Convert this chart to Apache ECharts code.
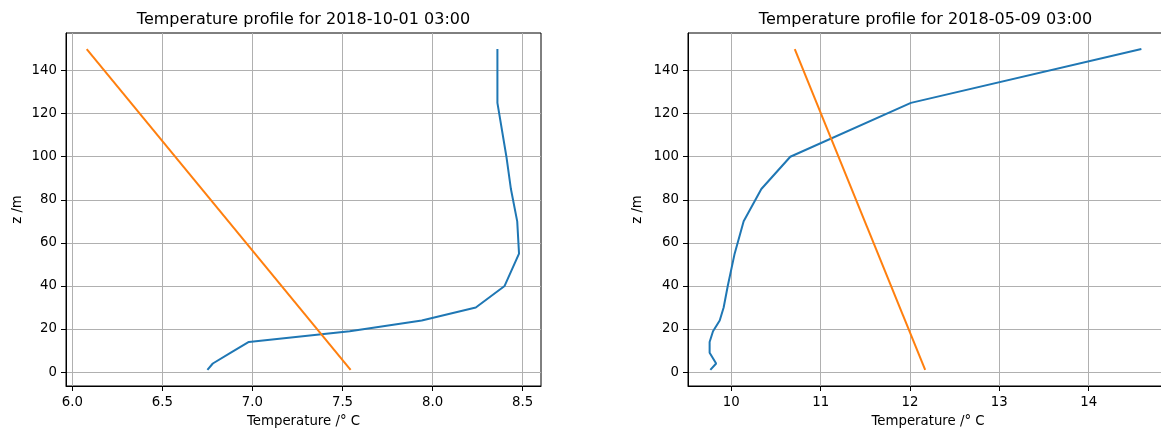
<!DOCTYPE html>
<html><head><meta charset="utf-8">
<script src="https://cdn.jsdelivr.net/npm/echarts@6/dist/echarts.min.js"></script>
<style>html,body{margin:0;padding:0;background:#fff}#c{width:1161px;height:429px}</style>
</head><body><div id="c"></div>
<script>
// ---- data ----
const titles = ['Temperature profile for 2018-10-01 03:00', 'Temperature profile for 2018-05-09 03:00'];
const zLevels = [1, 4, 9, 14, 19, 24, 30, 40, 55, 70, 85, 100, 125, 150];
const leftObs = [6.75, 6.78, 6.88, 6.98, 7.54, 7.94, 8.24, 8.40, 8.48, 8.47, 8.435, 8.41, 8.36, 8.36];
const rightObs = [9.765, 9.83, 9.757, 9.757, 9.795, 9.87, 9.914, 9.96, 10.037, 10.138, 10.336, 10.66, 12.01, 14.59];
const zModel = [1, 150];
const leftModel = [7.545, 6.08];
const rightModel = [12.17, 10.71];
const yTicks = [0, 20, 40, 60, 80, 100, 120, 140];
const leftXTicks = [6.0, 6.5, 7.0, 7.5, 8.0, 8.5];
const rightXTicks = [10, 11, 12, 13, 14];
const xName = 'Temperature /° C';
const yName = 'z /m';

// ---- chart ----
const FONT = 'DejaVu Sans';
const pairs = (xs, zs) => xs.map((x, i) => [x, zs[i]]);

function xAxisCfg(gi, min, max, ticks, fmt) {
  return {
    type: 'value', gridIndex: gi, min: min, max: max,
    name: xName, nameLocation: 'middle', nameGap: 29,
    nameTextStyle: { color: '#000', fontSize: 13.3, fontFamily: FONT },
    axisLine: { show: true, onZero: false, lineStyle: { color: '#000', width: 1 } },
    axisTick: { show: true, inside: false, length: 5, customValues: ticks, lineStyle: { color: '#000', width: 1 } },
    axisLabel: { customValues: ticks, formatter: fmt, margin: 10, color: '#000', fontSize: 13.3, fontFamily: FONT },
    splitLine: { show: true, lineStyle: { color: '#b0b0b0', width: 1 } }
  };
}
function yAxisCfg(gi, gap) {
  return {
    type: 'value', gridIndex: gi, min: -6.45, max: 157.45,
    name: yName, nameLocation: 'middle', nameGap: gap, nameRotate: 90,
    nameTextStyle: { color: '#000', fontSize: 13.3, fontFamily: FONT },
    axisLine: { show: true, onZero: false, lineStyle: { color: '#000', width: 1 } },
    axisTick: { show: true, inside: false, length: 5, customValues: yTicks, lineStyle: { color: '#000', width: 1 } },
    axisLabel: { customValues: yTicks, formatter: v => String(v), margin: 9, color: '#000', fontSize: 13.3, fontFamily: FONT },
    splitLine: { show: true, lineStyle: { color: '#b0b0b0', width: 1 } }
  };
}
function lineSeries(gi, data, color) {
  return {
    type: 'line', xAxisIndex: gi, yAxisIndex: gi, data: data,
    showSymbol: false, symbol: 'none', smooth: false,
    lineStyle: { color: color, width: 2 }, itemStyle: { color: color },
    emphasis: { disabled: true }
  };
}

const chart = echarts.init(document.getElementById('c'), null, { renderer: 'canvas' });
chart.setOption({
  animation: false,
  backgroundColor: '#fff',
  title: [
    { text: titles[0], left: 303.5, top: 12, textAlign: 'center', padding: 0,
      textStyle: { color: '#000', fontSize: 16, fontWeight: 'normal', fontFamily: FONT } },
    { text: titles[1], left: 925.5, top: 12, textAlign: 'center', padding: 0,
      textStyle: { color: '#000', fontSize: 16, fontWeight: 'normal', fontFamily: FONT } }
  ],
  grid: [
    { left: 66, top: 33, width: 475, height: 353, show: true, borderColor: '#000', borderWidth: 1, backgroundColor: 'transparent', outerBoundsMode: 'none', containLabel: false },
    { left: 688, top: 33, width: 480, height: 353, show: true, borderColor: '#000', borderWidth: 1, backgroundColor: 'transparent', outerBoundsMode: 'none', containLabel: false }
  ],
  xAxis: [
    xAxisCfg(0, 5.965, 8.602, leftXTicks, v => v.toFixed(1)),
    xAxisCfg(1, 9.515, 14.888, rightXTicks, v => String(v))
  ],
  yAxis: [yAxisCfg(0, 42), yAxisCfg(1, 44)],
  series: [
    lineSeries(0, pairs(leftObs, zLevels), '#1f77b4'),
    lineSeries(0, pairs(leftModel, zModel), '#ff7f0e'),
    lineSeries(1, pairs(rightObs, zLevels), '#1f77b4'),
    lineSeries(1, pairs(rightModel, zModel), '#ff7f0e')
  ]
});
</script>
</body></html>
